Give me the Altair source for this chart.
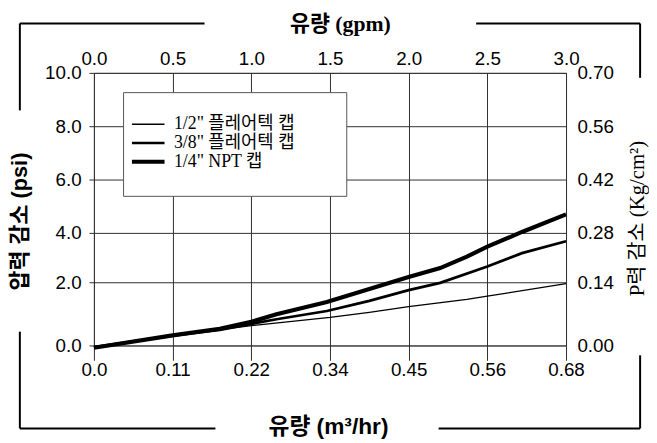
import altair as alt
import pandas as pd

# ---- data ----
series_names = ['1/2" 플레어텍 캡', '3/8" 플레어텍 캡', '1/4" NPT 캡']
half_gpm = [0, 0.5, 0.8, 1.0, 1.5, 1.75, 2.0, 2.37, 2.5, 3.0]
half_psi = [-0.05, 0.31, 0.5, 0.63, 0.89, 1.05, 1.23, 1.46, 1.56, 1.96]
eighth_gpm = [0, 0.5, 0.8, 1.0, 1.16, 1.48, 1.75, 2.0, 2.2, 2.5, 2.72, 3.0]
eighth_psi = [-0.05, 0.31, 0.49, 0.68, 0.83, 1.09, 1.41, 1.75, 1.98, 2.63, 3.17, 3.65]
npt_gpm = [0, 0.5, 0.8, 1.0, 1.16, 1.48, 1.75, 2.0, 2.2, 2.37, 2.5, 2.72, 3.0]
npt_psi = [-0.07, 0.32, 0.53, 0.75, 0.99, 1.375, 1.79, 2.21, 2.57, 3.03, 3.43, 4.02, 4.68]

gpm_ticks = [0, 0.5, 1.0, 1.5, 2.0, 2.5, 3.0]
gpm_labels = ['0.0', '0.5', '1.0', '1.5', '2.0', '2.5', '3.0']
m3_labels = ['0.0', '0.11', '0.22', '0.34', '0.45', '0.56', '0.68']
psi_ticks = [0, 2, 4, 6, 8, 10]
psi_labels = ['0.0', '2.0', '4.0', '6.0', '8.0', '10.0']
kg_labels = ['0.00', '0.14', '0.28', '0.42', '0.56', '0.70']

rows = []
for name, xs, ys in zip(series_names, [half_gpm, eighth_gpm, npt_gpm],
                        [half_psi, eighth_psi, npt_psi]):
    for xv, yv in zip(xs, ys):
        rows.append({'series': name, 'gpm': xv, 'psi': yv})
data = pd.DataFrame(rows)


def js_list(items):
    return '[' + ','.join("'" + s + "'" for s in items) + ']'


W, H = 478, 276
SANS = "Liberation Sans"
SANS_KR = "Liberation Sans, Noto Sans CJK KR"
SERIF_KR = "Liberation Serif, Noto Sans CJK KR"
GRID = '#2e2e2e'

xscale = alt.Scale(domain=[0, 3], nice=False, zero=False)
# the reference axis is drawn with a slightly stretched first interval
yscale = alt.Scale(domain=[0, 2, 4, 10], range=[H, 212, 161.6, 0], nice=False, zero=False)

lines = alt.Chart(data).mark_line(color='black').encode(
    x=alt.X('gpm:Q', scale=xscale, axis=alt.Axis(
        orient='bottom', values=gpm_ticks,
        labelExpr=js_list(m3_labels) + '[round(datum.value*2)]',
        grid=True, gridColor=GRID, gridOpacity=1, gridWidth=1,
        ticks=True, tickSize=15, tickColor=GRID, domain=False,
        labelFont=SANS, labelFontSize=19, labelColor='black', labelPadding=0,
        labelFlush=False, labelOverlap=False,
        title='유량 (m³/hr)', titleFont=SANS_KR, titleFontSize=23, titleFontWeight='bold',
        titleColor='black', titleX=237, titleY=82, titleBaseline='middle', titleAlign='center')),
    y=alt.Y('psi:Q', scale=yscale, axis=alt.Axis(
        orient='left', values=psi_ticks,
        labelExpr=js_list(psi_labels) + '[round(datum.value/2)]',
        grid=True, gridColor=GRID, gridOpacity=1, gridWidth=1,
        ticks=True, tickSize=5, tickColor=GRID, domain=False,
        labelFont=SANS, labelFontSize=19, labelColor='black', labelPadding=8,
        labelOverlap=False,
        title='압력 감소 (psi)', titleFont=SANS_KR, titleFontSize=22, titleFontWeight='bold',
        titleColor='black', titleX=-75, titleY=150, titleAngle=270,
        titleBaseline='middle', titleAlign='center')),
    strokeWidth=alt.StrokeWidth('series:N', sort=series_names,
        scale=alt.Scale(domain=series_names, range=[1.3, 4.2]),
        legend=alt.Legend(
            orient='none', legendX=36, legendY=43.5, title=None,
            symbolType='stroke', symbolSize=1089, symbolStrokeColor='black',
            labelFont=SERIF_KR, labelFontSize=18, labelColor='black',
            labelOffset=7, labelLimit=300, clipHeight=17, rowPadding=0,
            padding=0)),
)

axes2 = alt.Chart(data).mark_point(opacity=0).encode(
    x=alt.X('gpm:Q', scale=xscale, axis=alt.Axis(
        orient='top', values=gpm_ticks,
        labelExpr=js_list(gpm_labels) + '[round(datum.value*2)]',
        grid=False, ticks=False, tickSize=0, domain=False,
        labelFont=SANS, labelFontSize=19, labelColor='black', labelPadding=4,
        labelFlush=False, labelOverlap=False,
        title='유량 (gpm)', titleFont=SERIF_KR, titleFontSize=22, titleFontWeight='bold',
        titleColor='black', titleX=249, titleY=-50, titleBaseline='middle', titleAlign='center')),
    y=alt.Y('psi:Q', scale=yscale, axis=alt.Axis(
        orient='right', values=psi_ticks,
        labelExpr=js_list(kg_labels) + '[round(datum.value/2)]',
        grid=False, ticks=False, tickSize=0, domain=False,
        labelFont=SANS, labelFontSize=19, labelColor='black', labelPadding=11,
        labelOverlap=False,
        title='P력 감소 (Kg/cm²)', titleFont=SERIF_KR, titleFontSize=21, titleFontWeight='normal',
        titleColor='black', titleX=72, titleY=147, titleAngle=270,
        titleBaseline='middle', titleAlign='center')),
)

one = pd.DataFrame({'k': [0]})

legend_box = alt.Chart(one).mark_rect(fill='white', stroke='#555', strokeWidth=1).encode(
    x=alt.value(30), x2=alt.value(256), y=alt.value(20), y2=alt.value(125))


def hseg(x1, x2, y):
    return alt.Chart(one).mark_rule(color='black', strokeWidth=2).encode(
        x=alt.value(x1), x2=alt.value(x2), y=alt.value(y))


def vseg(x, y1, y2):
    return alt.Chart(one).mark_rule(color='black', strokeWidth=2).encode(
        x=alt.value(x), y=alt.value(y1), y2=alt.value(y2))


frame = [
    hseg(-75, 112, -50), hseg(387, 553, -50),
    vseg(-75, -50, 38), vseg(553, -50, 5),
    vseg(-75, 262, 360), vseg(553, 286, 360),
    hseg(-75, 123, 360), hseg(349, 553, 360),
]

chart = alt.layer(lines, axes2, legend_box, *frame).resolve_scale(
    x='independent', y='independent'
).properties(
    width=W, height=H,
    autosize=alt.AutoSizeParams(type='none'),
    padding={'left': 87, 'top': 63, 'right': 84, 'bottom': 92},
    background='white',
).configure_view(stroke='#555', strokeWidth=1)

chart.save('out.html', embed_options={'renderer': 'svg', 'actions': False})
